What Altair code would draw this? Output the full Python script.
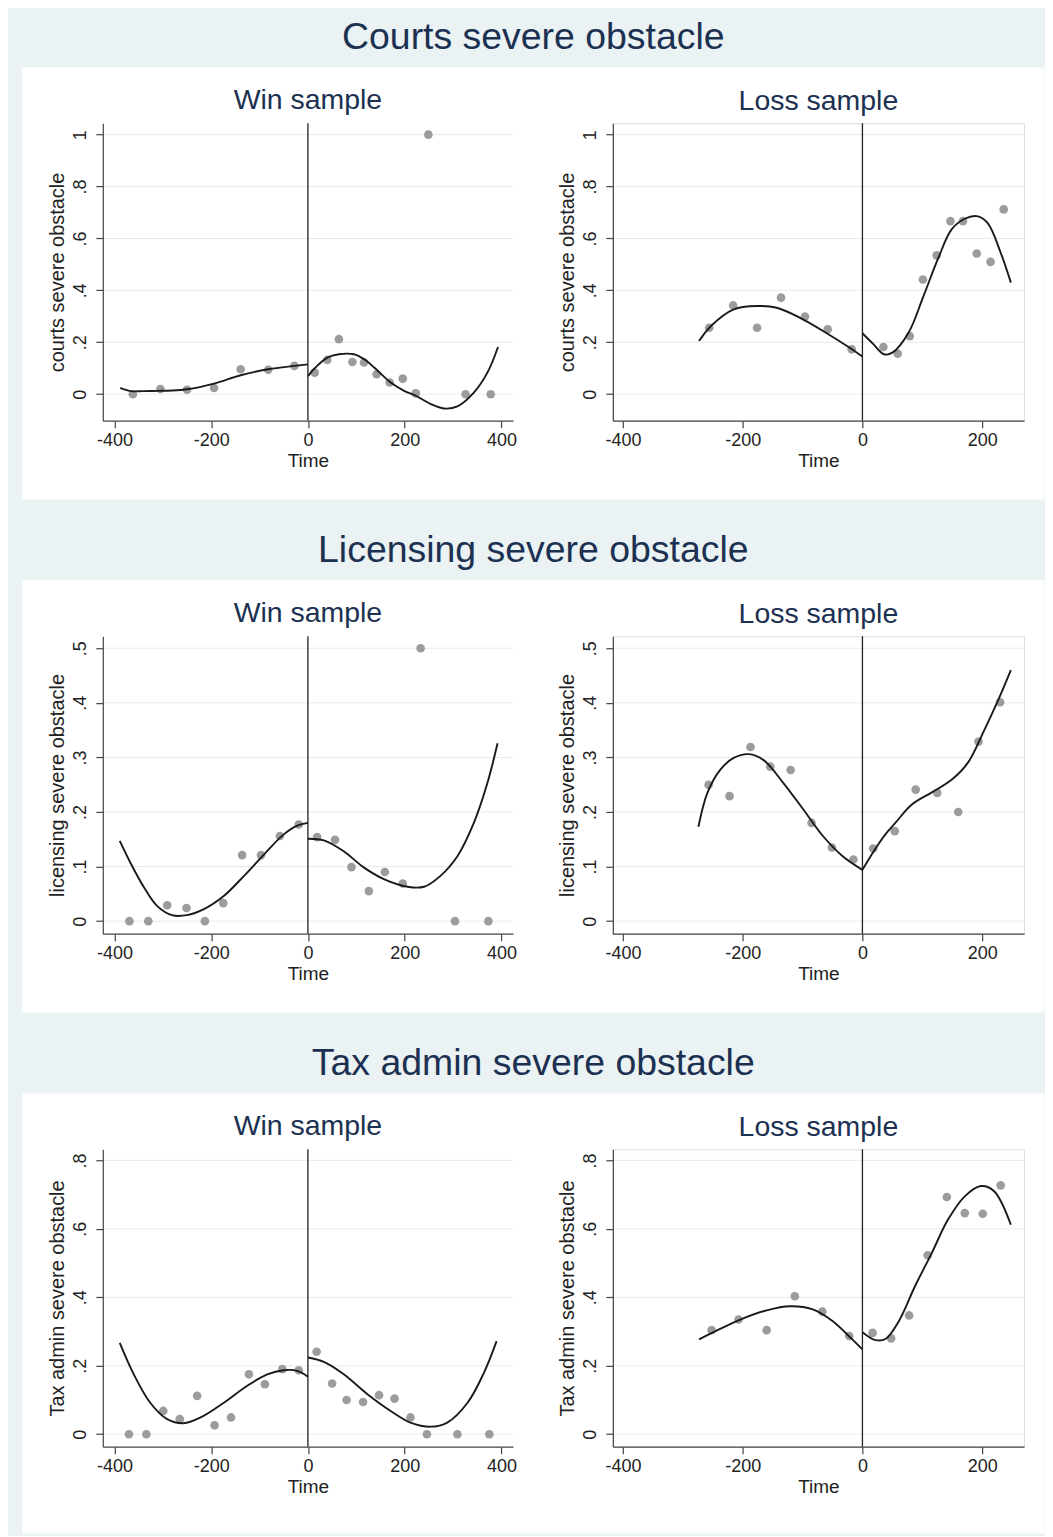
import altair as alt
import pandas as pd

FONT = "Liberation Sans"
NAVY = "#1c3152"
BG = "#eaf2f3"

# ---------------- data ----------------
# Courts severe obstacle
courts_win_x = [-362, -305, -250, -194, -139, -82, -28, 14, 40, 64, 92, 116, 142, 169, 196, 223, 249, 326, 378]
courts_win_y = [0.000, 0.020, 0.017, 0.024, 0.096, 0.094, 0.109, 0.083, 0.132, 0.212, 0.124, 0.122, 0.077, 0.045, 0.060, 0.003, 1.000, 0.000, 0.000]
courts_win_pre_x = [-388, -367, -340, -310, -281, -250, -194, -139, -82, -28, 0]
courts_win_pre_y = [0.024, 0.012, 0.012, 0.013, 0.014, 0.019, 0.041, 0.073, 0.096, 0.109, 0.115]
courts_win_post_x = [0, 14, 40, 64, 95, 116, 137, 171, 199, 223, 254, 281, 309, 343, 371, 393]
courts_win_post_y = [0.070, 0.100, 0.141, 0.154, 0.154, 0.135, 0.103, 0.045, 0.013, -0.006, -0.038, -0.055, -0.047, 0.006, 0.083, 0.182]

courts_loss_x = [-256, -216, -176, -136, -96, -58, -18, 35, 59, 79, 101, 124, 147, 168, 191, 214, 236]
courts_loss_y = [0.256, 0.342, 0.256, 0.372, 0.299, 0.250, 0.173, 0.182, 0.156, 0.224, 0.442, 0.535, 0.667, 0.667, 0.542, 0.510, 0.712]
courts_loss_pre_x = [-273, -253, -215, -176, -143, -105, -61, -22, 0]
courts_loss_pre_y = [0.205, 0.263, 0.327, 0.340, 0.333, 0.295, 0.237, 0.180, 0.145]
courts_loss_post_x = [0, 17, 36, 50, 77, 102, 127, 149, 171, 191, 209, 231, 248]
courts_loss_post_y = [0.235, 0.196, 0.154, 0.160, 0.237, 0.378, 0.526, 0.635, 0.676, 0.686, 0.660, 0.545, 0.430]

# Licensing severe obstacle
lic_win_x = [-369, -330, -291, -251, -213, -175, -136, -97, -58, -19, 19, 56, 90, 126, 159, 196, 233, 304, 373]
lic_win_y = [0.000, 0.000, 0.029, 0.024, 0.000, 0.033, 0.121, 0.121, 0.156, 0.177, 0.154, 0.149, 0.099, 0.055, 0.090, 0.069, 0.500, 0.000, 0.000]
lic_win_pre_x = [-389, -367, -339, -312, -281, -250, -215, -174, -132, -91, -50, -22, 0]
lic_win_pre_y = [0.147, 0.107, 0.062, 0.028, 0.011, 0.011, 0.022, 0.046, 0.083, 0.122, 0.159, 0.175, 0.180]
lic_win_post_x = [0, 33, 74, 116, 157, 206, 240, 274, 309, 343, 371, 392]
lic_win_post_y = [0.151, 0.148, 0.128, 0.098, 0.077, 0.063, 0.063, 0.083, 0.119, 0.180, 0.253, 0.326]

lic_loss_x = [-257, -222, -187, -154, -120, -85, -51, -15, 18, 54, 89, 125, 160, 194, 230]
lic_loss_y = [0.250, 0.229, 0.319, 0.283, 0.277, 0.180, 0.135, 0.113, 0.133, 0.165, 0.241, 0.235, 0.200, 0.329, 0.401]
lic_loss_pre_x = [-274, -259, -237, -215, -190, -165, -132, -99, -66, -33, 0]
lic_loss_pre_y = [0.173, 0.235, 0.278, 0.299, 0.306, 0.295, 0.253, 0.205, 0.156, 0.119, 0.094]
lic_loss_post_x = [0, 20, 39, 55, 83, 116, 149, 176, 204, 226, 248]
lic_loss_post_y = [0.094, 0.130, 0.160, 0.180, 0.214, 0.236, 0.259, 0.290, 0.351, 0.403, 0.460]

# Tax admin severe obstacle
tax_win_x = [-370, -334, -299, -265, -229, -193, -159, -122, -89, -53, -19, 18, 50, 80, 114, 147, 179, 212, 246, 309, 375]
tax_win_y = [0.000, 0.000, 0.068, 0.044, 0.112, 0.026, 0.049, 0.175, 0.146, 0.190, 0.187, 0.241, 0.148, 0.100, 0.094, 0.114, 0.104, 0.049, 0.000, 0.000, 0.000]
tax_win_pre_x = [-389, -360, -326, -291, -257, -222, -174, -126, -84, -50, -22, 0]
tax_win_pre_y = [0.267, 0.175, 0.092, 0.044, 0.032, 0.049, 0.092, 0.141, 0.175, 0.187, 0.185, 0.168]
tax_win_post_x = [0, 33, 74, 123, 171, 212, 254, 288, 330, 364, 390]
tax_win_post_y = [0.224, 0.211, 0.175, 0.117, 0.068, 0.034, 0.022, 0.034, 0.092, 0.180, 0.272]

tax_loss_x = [-252, -207, -160, -113, -67, -22, 17, 48, 78, 109, 141, 171, 201, 231]
tax_loss_y = [0.304, 0.335, 0.304, 0.403, 0.358, 0.287, 0.296, 0.280, 0.347, 0.523, 0.693, 0.646, 0.644, 0.727]
tax_loss_pre_x = [-273, -242, -204, -160, -121, -83, -50, -17, 0]
tax_loss_pre_y = [0.277, 0.304, 0.335, 0.362, 0.374, 0.365, 0.331, 0.277, 0.248]
tax_loss_post_x = [0, 22, 39, 61, 88, 116, 143, 171, 198, 220, 248]
tax_loss_post_y = [0.298, 0.275, 0.279, 0.331, 0.433, 0.530, 0.627, 0.695, 0.725, 0.710, 0.612]

# axes
win_xticks = [-400, -200, 0, 200, 400]
loss_xticks = [-400, -200, 0, 200]
win_xdomain = [-424, 424]
loss_xdomain = [-417, 270]
courts_yticks = [0, 0.2, 0.4, 0.6, 0.8, 1.0]
lic_yticks = [0, 0.1, 0.2, 0.3, 0.4, 0.5]
tax_yticks = [0, 0.2, 0.4, 0.6, 0.8]
courts_ydomain = [-0.102, 1.044]
lic_ydomain = [-0.023, 0.522]
tax_ydomain = [-0.0365, 0.8325]

row_titles = ["Courts severe obstacle", "Licensing severe obstacle", "Tax admin severe obstacle"]
y_titles = ["courts severe obstacle", "licensing severe obstacle", "Tax admin severe obstacle"]
sub_titles = ["Win sample", "Loss sample"]

PW_L, PW_R, PH = 411, 412, 298


def panel(px, py, prex, prey, postx, posty, xdom, xticks, ydom, yticks, ytitle,
          subtitle, width, sub_offset, box_bottom=None):
    pts = pd.DataFrame({"Time": px, "val": py})
    fit = pd.DataFrame({"Time": prex + postx, "val": prey + posty,
                        "seg": ["pre"] * len(prex) + ["post"] * len(postx)})
    grid = pd.DataFrame({"val": yticks})
    vline = pd.DataFrame({"Time": [0]})

    xs = alt.Scale(domain=xdom, nice=False, zero=False)
    ys = alt.Scale(domain=ydom, nice=False, zero=False)
    xax = alt.Axis(values=xticks, title="Time", labelExpr="'' + datum.value", grid=False,
                   tickSize=7, labelPadding=4, titlePadding=2, labelFontSize=18,
                   titleFontSize=19, labelFont=FONT, titleFont=FONT, labelColor="#222",
                   titleColor="#222", titleFontWeight="normal", domainColor="#444",
                   tickColor="#444", domainWidth=1.2, tickWidth=1.2, zindex=1,
                   labelFlush=False, labelOverlap=False)
    yax = alt.Axis(values=yticks, title=ytitle,
                   labelExpr="datum.value == 0 ? '0' : (datum.value == 1 ? '1' : replace(format(datum.value, '.1f'), '0.', '.'))",
                   labelAngle=270, labelAlign="center", labelBaseline="bottom", grid=False,
                   tickSize=7, labelPadding=6, titlePadding=4, labelFontSize=18,
                   titleFontSize=20, labelFont=FONT, titleFont=FONT, labelColor="#222",
                   titleColor="#222", titleFontWeight="normal", domainColor="#444",
                   tickColor="#444", domainWidth=1.2, tickWidth=1.2, zindex=1,
                   labelFlush=False, labelOverlap=False)
    X = alt.X("Time:Q", scale=xs, axis=xax)
    Y = alt.Y("val:Q", scale=ys, axis=yax)

    layers = []
    if box_bottom is not None:
        box = alt.Chart(pd.DataFrame({"b": [0]})).mark_rect(color="white").encode(
            x=alt.value(-80.7), x2=alt.value(943.3), y=alt.value(-56), y2=alt.value(box_bottom))
        layers.append(box)
    layers.append(alt.Chart(grid).mark_rule(color="#e4ebee", strokeWidth=1).encode(y=Y))
    layers.append(alt.Chart(vline).mark_rule(color="#222", strokeWidth=1.3).encode(x=X))
    layers.append(alt.Chart(pts).mark_circle(size=75, color="#9c9c9c", opacity=1).encode(x=X, y=Y))
    layers.append(alt.Chart(fit).mark_line(color="#1a1a1a", strokeWidth=1.9, interpolate="catmull-rom")
                  .encode(x=X, y=Y, detail="seg:N"))
    title = alt.TitleParams(text=subtitle, fontSize=28.5, font=FONT, fontWeight="normal", color=NAVY,
                            anchor="middle", frame="group", offset=sub_offset, baseline="alphabetic")
    return alt.layer(*layers).properties(width=width, height=PH, title=title)


def row(i, win, loss, ydom, yticks, box_bottom):
    left = panel(*win, win_xdomain, win_xticks, ydom, yticks, y_titles[i], sub_titles[0], PW_L,
                 -70, box_bottom)
    right = panel(*loss, loss_xdomain, loss_xticks, ydom, yticks, y_titles[i], sub_titles[1], PW_R,
                  -16)
    t = alt.TitleParams(text=row_titles[i], fontSize=37.5, font=FONT, fontWeight="normal", color=NAVY,
                        anchor="middle", offset=-20, baseline="alphabetic")
    return alt.hconcat(left, right, spacing=100, bounds="flush", title=t)


r1 = row(0,
         (courts_win_x, courts_win_y, courts_win_pre_x, courts_win_pre_y, courts_win_post_x, courts_win_post_y),
         (courts_loss_x, courts_loss_y, courts_loss_pre_x, courts_loss_pre_y, courts_loss_post_x, courts_loss_post_y),
         courts_ydomain, courts_yticks, 377)
r2 = row(1,
         (lic_win_x, lic_win_y, lic_win_pre_x, lic_win_pre_y, lic_win_post_x, lic_win_post_y),
         (lic_loss_x, lic_loss_y, lic_loss_pre_x, lic_loss_pre_y, lic_loss_post_x, lic_loss_post_y),
         lic_ydomain, lic_yticks, 377)
r3 = row(2,
         (tax_win_x, tax_win_y, tax_win_pre_x, tax_win_pre_y, tax_win_post_x, tax_win_post_y),
         (tax_loss_x, tax_loss_y, tax_loss_pre_x, tax_loss_pre_y, tax_loss_post_x, tax_loss_post_y),
         tax_ydomain, tax_yticks, 385)

chart = alt.vconcat(r1, r2, r3, spacing=32).properties(
    background=BG,
    padding={"left": 13, "top": 10, "right": 0, "bottom": 0},
).configure_view(stroke=None).configure(font=FONT)

chart.save("out.html", embed_options={"renderer": "svg", "actions": False})
